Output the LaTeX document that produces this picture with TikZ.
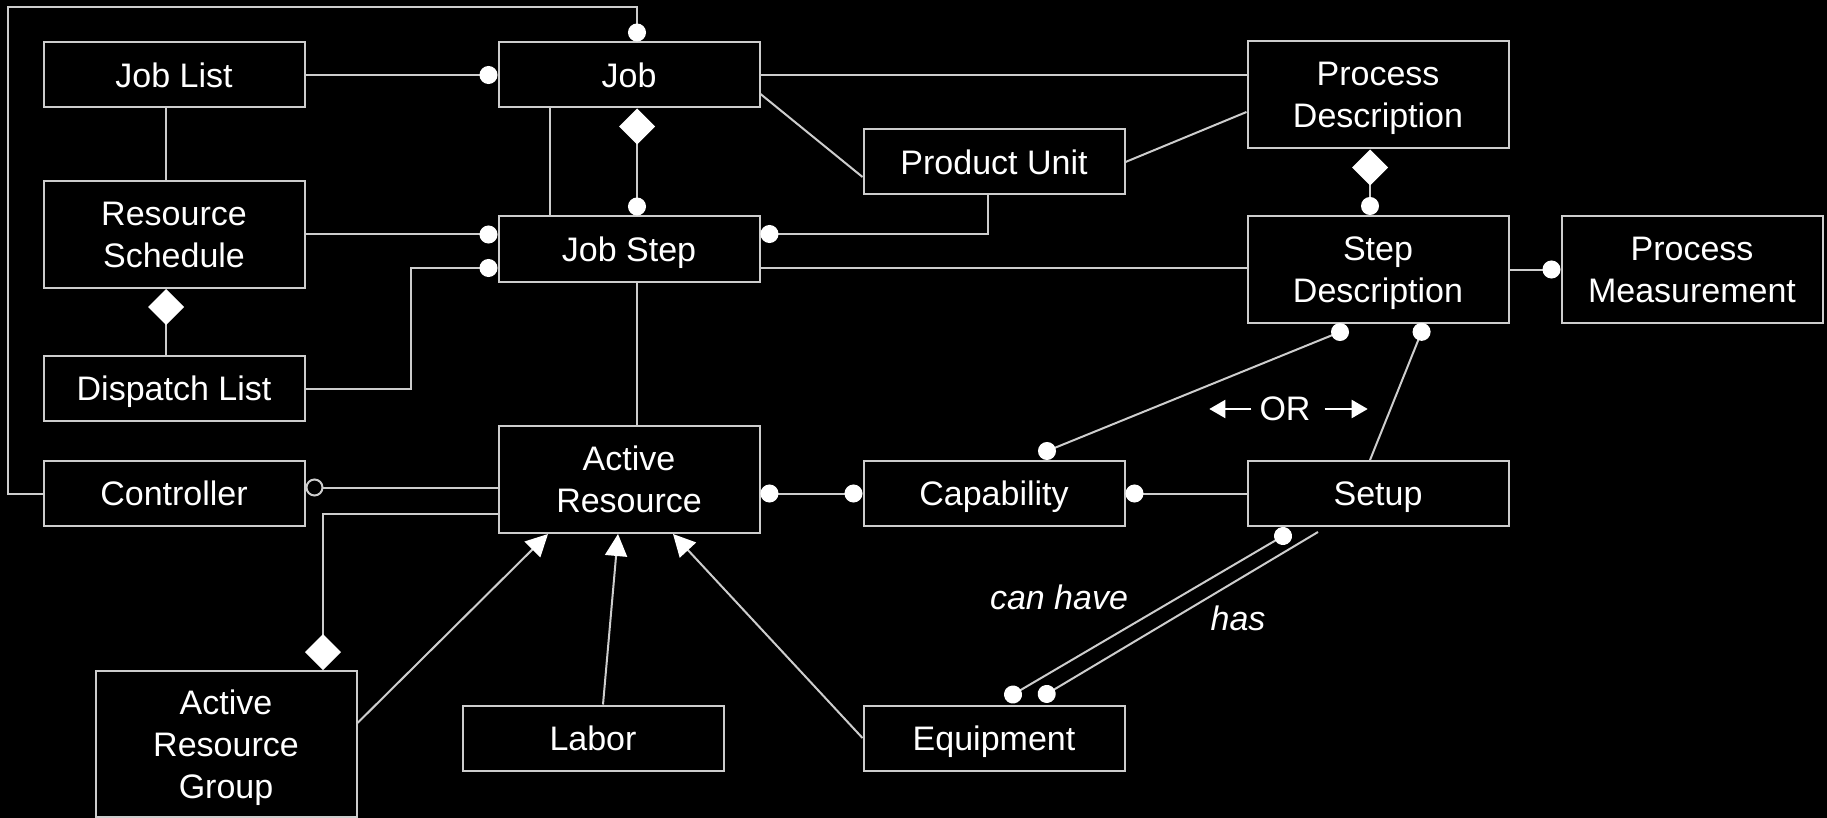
\documentclass[tikz,border=0pt]{standalone}
\usepackage{fontspec}
\setmainfont{Liberation Sans}
\usetikzlibrary{arrows.meta,calc}
\definecolor{linegray}{RGB}{205,205,205}
\newcommand{\boxfont}{\fontsize{34}{42}\selectfont}
\tikzset{entity/.style={draw=linegray,line width=2pt,fill=black,text=white,font=\boxfont,align=center,minimum width=261pt,minimum height=65pt,inner sep=0pt,text depth=0pt},
entity tall/.style={entity,minimum height=107pt,text depth=-4pt},
entity taller/.style={entity,minimum height=146pt,text depth=-4pt},
link/.style={draw=linegray,line width=2pt},
link label/.style={text=white,font=\boxfont,inner sep=0pt},
ball/.tip={Circle[length=18pt,width=18pt,color=white]},
ring/.tip={Circle[open,length=18pt,width=18pt,color=linegray]},
lozenge/.tip={Diamond[length=36pt,width=36pt,color=white]},
isa/.tip={Triangle[length=22pt,width=22pt,color=white]},
pointer/.tip={Triangle[length=16pt,width=18pt,color=white]}}

\begin{document}
\begin{tikzpicture}[x=1pt,y=-1pt]
% background, 1 unit = 1 pixel of the 1827x818 frame
\fill[black] (0,0) rectangle (1827,818);
\useasboundingbox (0,0) rectangle (1827,818);

%% entities
\node [entity] (joblist) at (174,75) {Job List};
\node [entity] (job) at (629,75) {Job};
\node [entity tall] (procdesc) at (1378,95) {Process\\Description};
\node [entity] (produnit) at (994,162) {Product Unit};
\node [entity tall] (ressched) at (174,234.5) {Resource\\Schedule};
\node [entity] (jobstep) at (629,249) {Job Step};
\node [entity tall] (stepdesc) at (1378,269.5) {Step\\Description};
\node [entity tall] (procmeas) at (1692,269.5) {Process\\Measurement};
\node [entity] (displist) at (174,388.5) {Dispatch List};
\node [entity] (ctrl) at (174,493.5) {Controller};
\node [entity tall] (actres) at (629,479.5) {Active\\Resource};
\node [entity] (capab) at (994,493.5) {Capability};
\node [entity] (setup) at (1378,493.5) {Setup};
\node [entity taller] (actgroup) at (226,744) {Active\\Resource\\Group};
\node [entity] (labor) at (593,738) {Labor};
\node [entity] (equip) at (994,738) {Equipment};

%% dot centres of the slanted links
\coordinate (capdot) at ([xshift=53pt,yshift=9pt]capab.north);
\coordinate (sddotl) at ([xshift=-38pt,yshift=-8pt]stepdesc.south);
\coordinate (sddotr) at ([xshift=44pt,yshift=-8pt]stepdesc.south);
\coordinate (setupdot) at ([xshift=-95pt,yshift=-9pt]setup.south);
\coordinate (eqdotl) at ([xshift=19pt,yshift=10pt]equip.north);
\coordinate (eqdotr) at ([xshift=53pt,yshift=10pt]equip.north);

%% loop from controller round to job
\coordinate (loop) at (8,7);
\draw [link,-ball] (ctrl.west) -| (loop) -| ([xshift=8pt]job.north);

%% job side
\draw [link,-ball] (joblist) -- (job);
\draw [link] ([xshift=-8pt]joblist.south) -- ([xshift=-8pt]ressched.north);
\draw [link,lozenge-ball] ([xshift=8pt]job.south) -- ([xshift=8pt]jobstep.north);
\draw [link] ([xshift=-79pt]job.south) -- ([xshift=-79pt]jobstep.north);
\draw [link,-ball] (ressched.east) -- (ressched.east -| jobstep.west);
\draw [link,-ball] (displist.east) -- ++(105,0) |- ([yshift=-19pt]jobstep.west);
\draw [link,lozenge-] ([xshift=-8pt]ressched.south) -- ([xshift=-8pt]displist.north);
\draw [link] (job.east) -- (job.east -| procdesc.west);
\draw [link] ([yshift=-19pt]job.east) -- ([yshift=-15pt]produnit.west);
\draw [link] (produnit.east) -- ([yshift=-17pt]procdesc.west);
\draw [link,-ball] ([xshift=-6pt]produnit.south) |- ([yshift=15pt]jobstep.east);
\draw [link] ([yshift=-19pt]jobstep.east) -- ([yshift=-19pt]jobstep.east -| stepdesc.west);

%% descriptions
\draw [link,lozenge-ball] ([xshift=-8pt]procdesc.south) -- ([xshift=-8pt]stepdesc.north);
\draw [link,-ball] (stepdesc.east) -- (procmeas.west);

%% resources
\draw [link] ([xshift=8pt]jobstep.south) -- ([xshift=8pt]actres.north);
\draw [link,ring-] ([yshift=6pt]ctrl.east) -- ([yshift=6pt]ctrl.east -| actres.west);
\draw [link,-lozenge] ([yshift=-34pt]actres.west) -| ([xshift=97pt]actgroup.north);
\draw [link,ball-ball] (capab.west -| actres.east) -- (capab.west);
\draw [link,ball-] (capab.east) -- (setup.west);
\draw [link,ball-ball] ($(capdot)!-9pt!(sddotl)$) -- ($(sddotl)!-9pt!(capdot)$);
\draw [link,-ball] ([xshift=-8pt]setup.north) -- ($(sddotr)!-9pt!(setup.north)$);
\draw [link,ball-ball] ($(setupdot)!-9pt!(eqdotl)$) -- ($(eqdotl)!-9pt!(setupdot)$);
\draw [link,-ball] ([xshift=-60pt,yshift=-5pt]setup.south) -- ($(eqdotr)!-9pt!(setup.south)$);

%% kinds of active resource
\draw [link,-isa] ([yshift=21pt]actgroup.east) -- ([xshift=-81pt]actres.south);
\draw [link,-isa] ([xshift=10pt]labor.north) -- ([xshift=-11pt]actres.south);
\draw [link,-isa] (equip.west) -- ([xshift=44pt]actres.south);

%% labels
\node [link label] (or) at (1285,409) {OR};
\draw [white,line width=2pt,-pointer] ([xshift=-8pt]or.west) -- ++(-42,0);
\draw [white,line width=2pt,-pointer] ([xshift=14pt]or.east) -- ++(43,0);
\node [link label,font=\boxfont\itshape] (canhave) at (1059,597) {can have};
\node [link label,font=\boxfont\itshape] (has) at (1238,618) {has};

\end{tikzpicture}
\end{document}
